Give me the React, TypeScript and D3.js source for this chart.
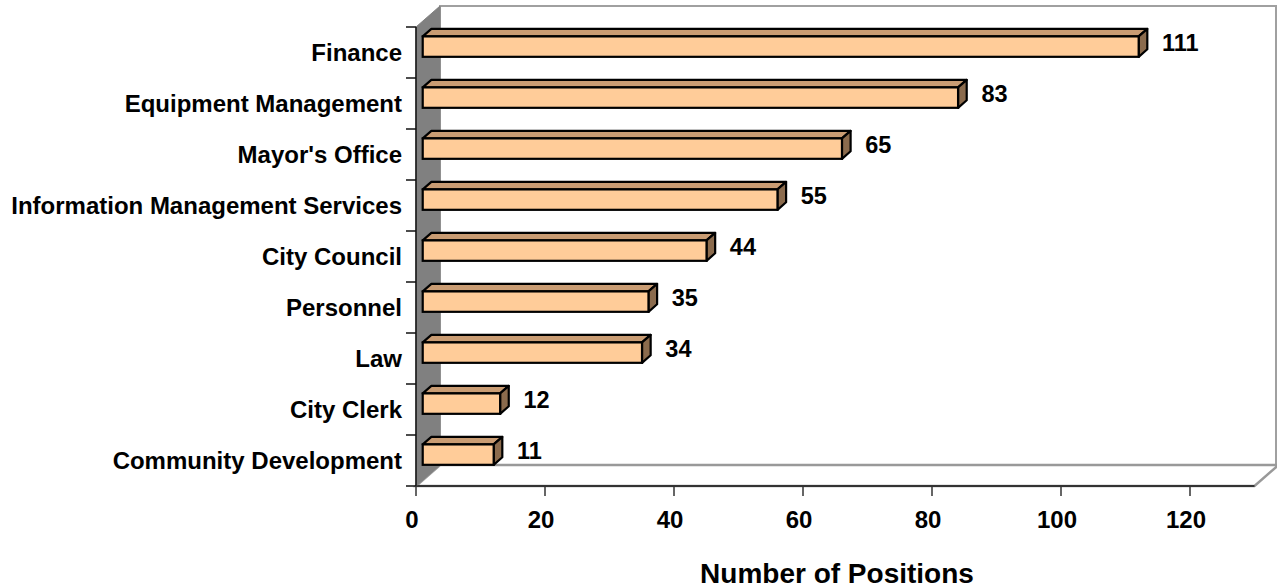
import React from "react";
import * as d3 from "d3";

const categories = [
  "Finance",
  "Equipment Management",
  "Mayor's Office",
  "Information Management Services",
  "City Council",
  "Personnel",
  "Law",
  "City Clerk",
  "Community Development",
];
const positions = [111, 83, 65, 55, 44, 35, 34, 12, 11];
const xTicks = [0, 20, 40, 60, 80, 100, 120];
const axisTitle = "Number of Positions";

const W = 1277;
const H = 588;
const FONT = "'Liberation Sans', Arial, Helvetica, sans-serif";

// plot box in the front plane
const left = 416;
const right = 1254.5;
const top = 27;
const bottom = 486;
// depth of the 3D box
const DX = 24;
const DY = 21;
// bar occupies this slice of the depth
const F0 = 0.28;
const F1 = 0.64;

export default function App() {
  const x = d3.scaleLinear().domain([0, 130]).range([left, right]);
  const y = d3.scaleBand<string>().domain(categories).range([top, bottom]);
  const bw = y.bandwidth();
  const barH = bw * 0.4;

  const wallPts = [
    [left, top],
    [left + DX, top - DY],
    [left + DX, bottom - DY],
    [left, bottom],
  ];
  const floorPts = [
    [left, bottom],
    [left + DX, bottom - DY],
    [right + DX, bottom - DY],
    [right, bottom],
  ];
  const pts = (p: number[][]) => p.map((q) => q.join(",")).join(" ");

  const bars = categories.map((c, i) => {
    const v = positions[i];
    const cy = (y(c) as number) + bw / 2;
    const fx0 = x(0) + DX * F0;
    const fx1 = x(v) + DX * F0;
    const fy0 = cy - DY * F0 - barH / 2;
    const fy1 = fy0 + barH;
    const ddx = DX * (F1 - F0);
    const ddy = DY * (F1 - F0);
    const topFace = [
      [fx0, fy0],
      [fx0 + ddx, fy0 - ddy],
      [fx1 + ddx, fy0 - ddy],
      [fx1, fy0],
    ];
    const sideFace = [
      [fx1, fy0],
      [fx1 + ddx, fy0 - ddy],
      [fx1 + ddx, fy1 - ddy],
      [fx1, fy1],
    ];
    const midX = x(v) + DX * (F0 + F1) / 2;
    const midY = cy - DY * (F0 + F1) / 2;
    return (
      <g key={c}>
        <polygon points={pts(topFace)} fill="#C99C73" stroke="#000" strokeWidth={2.2} strokeLinejoin="round" />
        <polygon points={pts(sideFace)} fill="#8B6B4D" stroke="#000" strokeWidth={2.2} strokeLinejoin="round" />
        <rect x={fx0} y={fy0} width={fx1 - fx0} height={barH} fill="#FFCC99" stroke="#000" strokeWidth={2.2} />
        <text x={midX + 19} y={midY + 8} fontSize={23.5} fontWeight="bold" fontFamily={FONT} fill="#000">
          {v}
        </text>
      </g>
    );
  });

  return (
    <svg
      width={W}
      height={H}
      style={{ position: "absolute", left: 0, top: 0, background: "#fff" }}
    >
      {/* back wall */}
      <rect x={left + DX} y={top - DY} width={W - 1 - (left + DX)} height={bottom - top} fill="#fff" stroke="#A0A0A0" strokeWidth={2} />
      {/* floor */}
      <polygon points={pts(floorPts)} fill="#fff" stroke="#999" strokeWidth={2.5} />
      <line x1={left} y1={bottom} x2={right} y2={bottom} stroke="#333" strokeWidth={2} />
      {/* side wall */}
      <polygon points={pts(wallPts)} fill="#808080" stroke="#808080" strokeWidth={1} />
      {/* value axis line and ticks */}
      <line x1={left} y1={top} x2={left} y2={bottom} stroke="#111" strokeWidth={1.5} />
      {y.domain().concat([""]).map((c, i) => {
        const ty = top + i * bw;
        return <line key={"yt" + i} x1={left - 10} y1={ty} x2={left} y2={ty} stroke="#111" strokeWidth={1.5} />;
      })}
      {xTicks.map((t) => (
        <g key={"xt" + t}>
          <line x1={x(t)} y1={bottom} x2={x(t)} y2={bottom + 10} stroke="#333" strokeWidth={1.5} />
          <text x={x(t) - 4} y={528} textAnchor="middle" fontSize={24} fontWeight="bold" fontFamily={FONT} fill="#000">
            {t}
          </text>
        </g>
      ))}
      {categories.map((c) => (
        <text
          key={"cl" + c}
          x={402}
          y={(y(c) as number) + bw / 2 + 8.5}
          textAnchor="end"
          fontSize={24}
          fontWeight="bold"
          fontFamily={FONT}
          fill="#000"
        >
          {c}
        </text>
      ))}
      {bars}
      <text x={837} y={583} textAnchor="middle" fontSize={28} fontWeight="bold" fontFamily={FONT} fill="#000">
        {axisTitle}
      </text>
    </svg>
  );
}
